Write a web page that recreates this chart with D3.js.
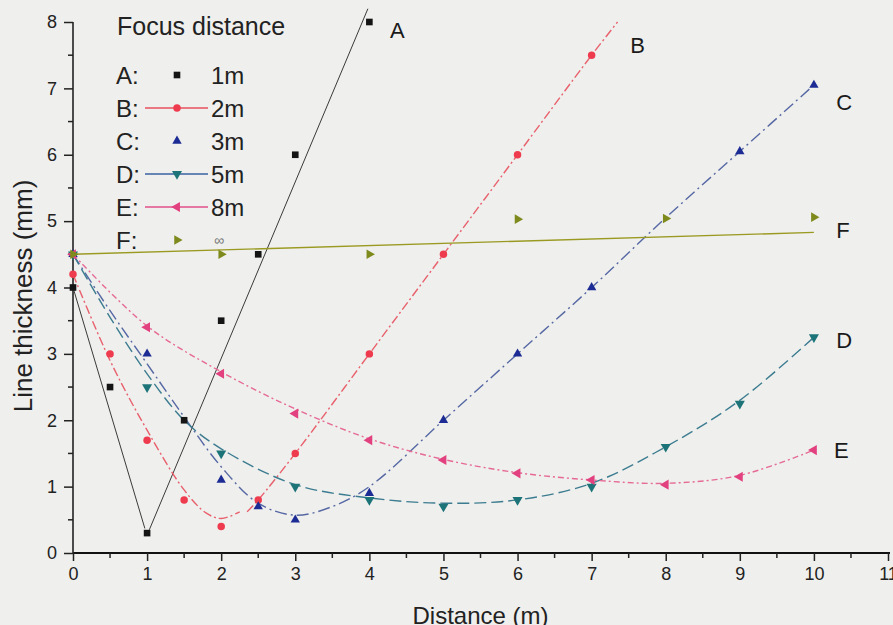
<!DOCTYPE html>
<html>
<head>
<meta charset="utf-8">
<script src="https://cdn.jsdelivr.net/npm/d3@7"></script>
<style>
  body { margin: 0; background: #efefed; }
  svg { display: block; font-family: "Liberation Sans", Arial, sans-serif; }
</style>
</head>
<body>
<div id="chart"></div>
<script>
// measured points (distance m, line thickness mm)
const pointsA = [[0, 4.0], [0.5, 2.5], [1, 0.3], [1.5, 2.0], [2, 3.5], [2.5, 4.5], [3, 6.0], [4, 8.0]];
const pointsB = [[0, 4.2], [0.5, 3.0], [1, 1.7], [1.5, 0.8], [2, 0.4], [2.5, 0.8], [3, 1.5], [4, 3.0], [5, 4.5], [6, 6.0], [7, 7.5]];
const pointsC = [[0, 4.5], [1, 3.0], [2, 1.1], [2.5, 0.7], [3, 0.5], [4, 0.9], [5, 2.0], [6, 3.0], [7, 4.0], [9, 6.05], [10, 7.05]];
const pointsD = [[0, 4.5], [1, 2.5], [2, 1.5], [3, 1.0], [4, 0.8], [5, 0.7], [6, 0.8], [7, 1.0], [8, 1.6], [9, 2.25], [10, 3.25]];
const pointsE = [[0, 4.5], [1, 3.4], [2, 2.7], [3, 2.1], [4, 1.7], [5, 1.4], [6, 1.2], [7, 1.1], [8, 1.03], [9, 1.15], [10, 1.55]];
const pointsF = [[0, 4.5], [2, 4.5], [4, 4.5], [6, 5.03], [8, 5.04], [10, 5.06]];

// fitted curves
const fitA1 = [[0, 4.0], [0.97, 0.37]];
const fitA2 = [[1.03, 0.35], [3.98, 8.2]];
const fitB1 = [[0, 4.2], [0.5, 2.9], [1, 1.85], [1.5, 0.95], [1.8, 0.6], [2.0, 0.52], [2.25, 0.62]];
const fitB2 = [[2.35, 0.62], [2.5, 0.8], [3, 1.5], [4, 3.0], [5, 4.5], [6, 6.0], [7, 7.5], [7.35, 8.0]];
const fitC = [[0, 4.5], [0.5, 3.65], [1, 2.85], [1.5, 2.05], [2, 1.3], [2.5, 0.75], [3, 0.57], [3.5, 0.7], [4, 1.0], [5, 2.0], [6, 3.0], [7, 4.0], [8, 5.05], [9, 6.05], [10, 7.05]];
const fitD = [[0, 4.5], [0.5, 3.55], [1, 2.7], [1.5, 2.0], [2, 1.57], [3, 1.03], [4, 0.83], [5, 0.75], [6, 0.8], [7, 1.05], [8, 1.6], [9, 2.3], [10, 3.25]];
const fitE = [[0, 4.5], [1, 3.42], [2, 2.73], [3, 2.17], [4, 1.72], [5, 1.41], [6, 1.21], [7, 1.1], [8, 1.05], [9, 1.17], [10, 1.55]];
const fitF = [[0, 4.5], [10, 4.83]];

const seriesKeys = ['A', 'B', 'C', 'D', 'E', 'F'];
const focusLabels = ['1m', '2m', '3m', '5m', '8m', '\u221E'];
const curveLabelPos = [[4.28, 7.76], [7.52, 7.53], [10.3, 6.67], [10.3, 3.09], [10.27, 1.43], [10.3, 4.74]];

const xTickValues = [0, 1, 2, 3, 4, 5, 6, 7, 8, 9, 10, 11];
const yTickValues = [0, 1, 2, 3, 4, 5, 6, 7, 8];

const width = 893, height = 625;
const margin = { top: 22, right: 5, bottom: 72, left: 73 };

const svg = d3.select('#chart').append('svg')
    .attr('width', width)
    .attr('height', height);

svg.append('rect').attr('width', width).attr('height', height).attr('fill', '#efefed');

const x = d3.scaleLinear().domain([0, 11]).range([margin.left, 888]);
const y = d3.scaleLinear().domain([0, 8]).range([553, margin.top]);

// styles per series
const markerColor = { A: '#141414', B: '#ef3b4e', C: '#1c2c94', D: '#1c7478', E: '#e2407e', F: '#7e8a1c' };
const lineColor = { A: '#3a3a3a', B: '#e8606c', C: '#5668a4', D: '#3c7c90', E: '#e66a96', F: '#9a9a22' };
const dash = { A: null, B: '9,3,2,3', C: '12,4,2,4', D: '12,5', E: '6,3,2,3', F: null };

// axes
const xAxis = d3.axisBottom(x).tickValues(xTickValues).tickSize(8).tickPadding(6);
const yAxis = d3.axisLeft(y).tickValues(yTickValues).tickSize(9).tickPadding(7);

const xAxisG = svg.append('g').attr('transform', 'translate(0,553)').call(xAxis);
const yAxisG = svg.append('g').attr('transform', 'translate(' + margin.left + ',0)').call(yAxis);

[xAxisG, yAxisG].forEach(g => {
    g.selectAll('text').attr('font-size', 18).attr('fill', '#222').style('font-family', '"Liberation Sans", Arial, sans-serif');
    g.selectAll('line').attr('stroke', '#222').attr('stroke-width', 1.5);
});
xAxisG.select('.domain').attr('d', 'M' + x(0) + ',0H' + 890).attr('stroke', '#111').attr('stroke-width', 2.2);
yAxisG.select('.domain').attr('d', 'M0,' + y(8) + 'V' + y(0)).attr('stroke', '#222').attr('stroke-width', 1.6);

// minor ticks
svg.append('g').selectAll('line')
    .data(d3.range(0.5, 11, 1))
    .enter().append('line')
    .attr('x1', d => x(d)).attr('x2', d => x(d))
    .attr('y1', 553).attr('y2', 558)
    .attr('stroke', '#222').attr('stroke-width', 1.5);

svg.append('g').selectAll('line')
    .data(d3.range(0.5, 8, 1))
    .enter().append('line')
    .attr('x1', x(0) - 5).attr('x2', x(0))
    .attr('y1', d => y(d)).attr('y2', d => y(d))
    .attr('stroke', '#222').attr('stroke-width', 1.5);

// axis titles
svg.append('text')
    .attr('x', x(5.5)).attr('y', 624)
    .attr('text-anchor', 'middle')
    .attr('font-size', 24).attr('fill', '#222')
    .text('Distance (m)');

svg.append('text')
    .attr('transform', 'translate(32,296) rotate(-90)')
    .attr('text-anchor', 'middle')
    .attr('font-size', 26).attr('fill', '#222')
    .text('Line thickness (mm)');

// fitted curves
const line = d3.line()
    .x(d => x(d[0]))
    .y(d => y(d[1]))
    .curve(d3.curveCatmullRom.alpha(0.5));

const fits = [
    ['A', fitA1], ['A', fitA2], ['B', fitB1], ['B', fitB2],
    ['C', fitC], ['D', fitD], ['E', fitE], ['F', fitF]
];

svg.append('g').selectAll('path')
    .data(fits)
    .enter().append('path')
    .attr('d', d => line(d[1]))
    .attr('fill', 'none')
    .attr('stroke', d => lineColor[d[0]])
    .attr('stroke-width', d => d[0] === 'A' ? 1 : 1.4)
    .attr('stroke-dasharray', d => dash[d[0]]);

// markers
const symbolFor = {
    A: d3.symbol().type(d3.symbolSquare).size(44),
    B: d3.symbol().type(d3.symbolCircle).size(44),
    C: d3.symbol().type(d3.symbolTriangle).size(38),
    D: d3.symbol().type(d3.symbolTriangle).size(44),
    E: d3.symbol().type(d3.symbolTriangle).size(44),
    F: d3.symbol().type(d3.symbolTriangle).size(40)
};
const rotateFor = { A: 0, B: 0, C: 0, D: 180, E: -90, F: 90 };

const allPoints = { A: pointsA, B: pointsB, C: pointsC, D: pointsD, E: pointsE, F: pointsF };

seriesKeys.forEach(k => {
    svg.append('g').selectAll('path')
        .data(allPoints[k])
        .enter().append('path')
        .attr('d', symbolFor[k]())
        .attr('transform', d => 'translate(' + x(d[0]) + ',' + y(d[1]) + ') rotate(' + rotateFor[k] + ')')
        .attr('fill', markerColor[k]);
});

// curve letters
svg.append('g').selectAll('text')
    .data(seriesKeys)
    .enter().append('text')
    .attr('x', (d, i) => x(curveLabelPos[i][0]))
    .attr('y', (d, i) => y(curveLabelPos[i][1]))
    .attr('font-size', 22).attr('fill', '#1a1a1a')
    .text(d => d);

// legend
const legend = svg.append('g');
legend.append('text')
    .attr('x', 117).attr('y', 35)
    .attr('font-size', 25).attr('fill', '#222')
    .text('Focus distance');

const rowY = i => 75 + i * 33;
const legendLine = { A: false, B: true, C: false, D: true, E: true, F: false };
const legendLineColor = { B: '#e8505e', D: '#3a62a0', E: '#e2508a' };

seriesKeys.forEach((k, i) => {
    const row = legend.append('g').attr('transform', 'translate(0,' + rowY(i) + ')');
    row.append('text')
        .attr('x', 116).attr('y', 8.5)
        .attr('font-size', 24).attr('fill', '#222')
        .text(k + ':');
    if (legendLine[k]) {
        row.append('line')
            .attr('x1', 145).attr('x2', 208)
            .attr('y1', 0).attr('y2', 0)
            .attr('stroke', legendLineColor[k]).attr('stroke-width', 1.3);
    }
    row.append('path')
        .attr('d', symbolFor[k]())
        .attr('transform', 'translate(177,0) rotate(' + rotateFor[k] + ')')
        .attr('fill', markerColor[k]);
    row.append('text')
        .attr('x', k === 'F' ? 214 : 211).attr('y', k === 'F' ? 5 : 8.5)
        .attr('font-size', k === 'F' ? 14 : 24)
        .attr('font-style', k === 'F' ? 'italic' : null)
        .attr('fill', k === 'F' ? '#777' : '#222')
        .text(focusLabels[i]);
});
</script>
</body>
</html>
